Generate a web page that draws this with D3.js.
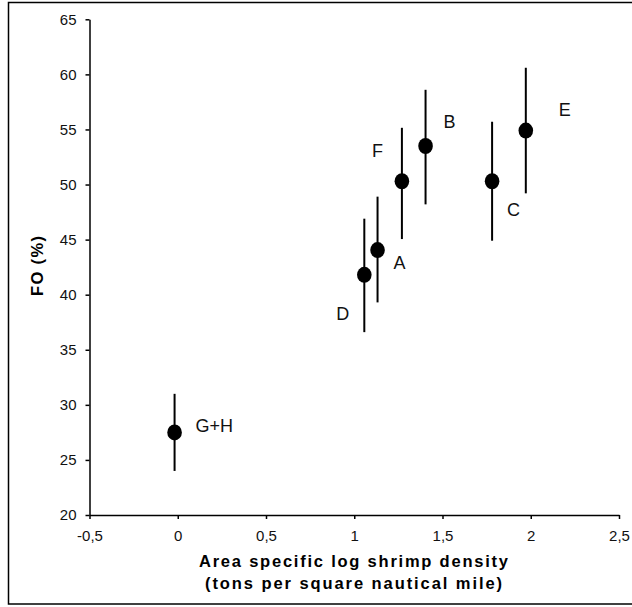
<!DOCTYPE html>
<html>
<head>
<meta charset="utf-8">
<script src="https://cdn.jsdelivr.net/npm/d3@7"></script>
<style>
  body { margin: 0; background: #fff; }
  svg { display: block; font-family: "Liberation Sans", Arial, sans-serif; }
</style>
</head>
<body>
<div id="chart"></div>
<script>
// data
const areas = ['G+H', 'D', 'A', 'F', 'B', 'C', 'E'];
const logDensity = [-0.018, 1.057, 1.132, 1.27, 1.404, 1.781, 1.972];
const fo = [27.5, 41.8, 44.05, 50.3, 53.5, 50.3, 54.9];
const foLow = [24.0, 36.6, 39.3, 45.05, 48.2, 44.9, 49.2];
const foHigh = [31.0, 46.9, 48.9, 55.15, 58.6, 55.7, 60.6];
const xTicks = [-0.5, 0, 0.5, 1, 1.5, 2, 2.5];
const yTicks = [20, 25, 30, 35, 40, 45, 50, 55, 60, 65];

// label placement relative to each point (px)
const labelOffsets = [[21, 0], [-28, 45], [16, 19], [-30, -24], [18, -18], [15, 35], [33, -15]];

const width = 632, height = 607;
const fmt = d => String(d).replace('.', ',');

const svg = d3.select('#chart').append('svg')
  .attr('width', width)
  .attr('height', height);

// outer frame
svg.append('rect')
  .attr('x', 8.5).attr('y', 2.5)
  .attr('width', 630).attr('height', 601.5)
  .attr('fill', 'none').attr('stroke', '#000').attr('stroke-width', 1.5);

const x = d3.scaleLinear().domain([-0.5, 2.5]).range([89.5, 619]);
const y = d3.scaleLinear().domain([20, 65]).range([515, 19.3]);

const xaxis = svg.append('g')
  .attr('transform', 'translate(0,515)')
  .call(d3.axisBottom(x).tickValues(xTicks).tickFormat(fmt).tickSize(4).tickPadding(11).tickSizeOuter(0));

const yaxis = svg.append('g')
  .attr('transform', 'translate(89.5,0)')
  .call(d3.axisLeft(y).tickValues(yTicks).tickSize(4).tickPadding(9).tickSizeOuter(0));

[xaxis, yaxis].forEach(g => {
  g.select('.domain').attr('stroke-width', 1.5);
  g.selectAll('.tick line').attr('stroke-width', 1.5);
  g.selectAll('.tick text').attr('font-size', 15).attr('fill', '#111')
    .attr('font-family', '"Liberation Sans", Arial, sans-serif');
});

// axis titles
const titleLines = ['Area specific log shrimp density', '(tons per square nautical mile)'];
const titleWidths = [309, 297];
svg.selectAll('.xtitle')
  .data(titleLines)
  .join('text')
  .attr('class', 'xtitle')
  .attr('x', 353.5)
  .attr('y', (d, i) => 566.5 + i * 22.5)
  .attr('text-anchor', 'middle')
  .attr('font-size', 16.5)
  .attr('font-weight', 'bold')
  .attr('textLength', (d, i) => titleWidths[i])
  .attr('lengthAdjust', 'spacing')
  .text(d => d);

svg.append('text')
  .attr('transform', 'translate(43,266) rotate(-90)')
  .attr('text-anchor', 'middle')
  .attr('font-size', 16.5)
  .attr('font-weight', 'bold')
  .attr('textLength', 60)
  .attr('lengthAdjust', 'spacing')
  .text('FO (%)');

const pts = areas.map((a, i) => ({
  area: a, x: logDensity[i], y: fo[i], lo: foLow[i], hi: foHigh[i], off: labelOffsets[i]
}));

// error bars
svg.selectAll('.err')
  .data(pts)
  .join('line')
  .attr('class', 'err')
  .attr('x1', d => x(d.x)).attr('x2', d => x(d.x))
  .attr('y1', d => y(d.lo)).attr('y2', d => y(d.hi))
  .attr('stroke', '#000').attr('stroke-width', 2);

// points
svg.selectAll('.pt')
  .data(pts)
  .join('ellipse')
  .attr('class', 'pt')
  .attr('cx', d => x(d.x)).attr('cy', d => y(d.y))
  .attr('rx', 7.3).attr('ry', 8)
  .attr('fill', '#000');

// area labels
svg.selectAll('.lbl')
  .data(pts)
  .join('text')
  .attr('class', 'lbl')
  .attr('x', d => x(d.x) + d.off[0])
  .attr('y', d => y(d.y) + d.off[1])
  .attr('font-size', 18)
  .attr('fill', '#111')
  .text(d => d.area);
</script>
</body>
</html>
